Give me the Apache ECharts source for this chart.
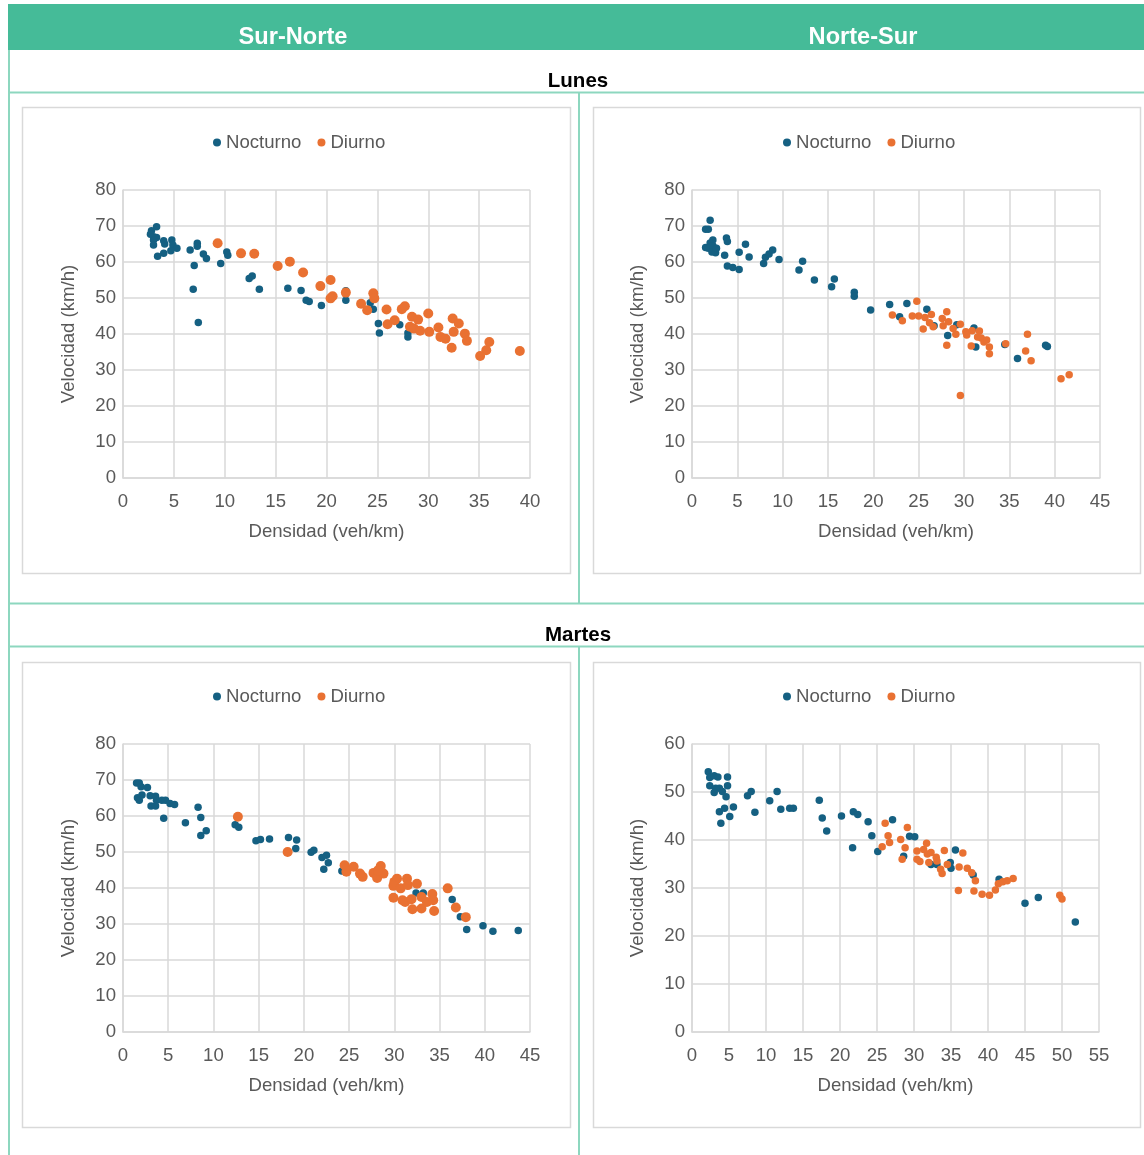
<!DOCTYPE html>
<html>
<head>
<meta charset="utf-8">
<title>Velocidad vs Densidad</title>
<script src="https://cdn.jsdelivr.net/npm/echarts@6/dist/echarts.min.js"></script>
<style>
  html, body { margin: 0; padding: 0; background: #ffffff; }
  #chart { width: 1144px; height: 1155px; }
</style>
</head>
<body>
<div id="chart"></div>
<script>
// Column headers (direction) and row headers (day)
const directions = ['Sur-Norte', 'Norte-Sur'];
const days = ['Lunes', 'Martes'];
const seriesNames = ['Nocturno', 'Diurno'];

// Axis ranges per panel: [xMax, yMax]; step of 5 on x and 10 on y
const xMaxes = [40, 45, 45, 55];
const yMaxes = [80, 80, 80, 60];

// Sur-Norte, Lunes — [densidad, velocidad]
const lunesSN_nocturno = [
  [3.3, 69.8], [2.8, 68.7], [2.7, 67.7], [3.0, 67.0], [3.3, 66.8], [3.0, 66.1], [3.0, 64.7],
  [4.0, 65.9], [4.1, 65.0], [4.8, 66.1], [4.9, 64.7], [5.3, 63.8], [4.7, 63.1], [4.0, 62.4],
  [3.4, 61.6], [6.6, 63.3], [7.3, 65.2], [7.3, 64.4], [7.9, 62.2], [8.2, 61.0], [10.2, 62.8],
  [10.3, 61.9], [7.0, 59.0], [9.6, 59.6], [6.9, 52.4], [7.4, 43.2], [12.4, 55.4], [12.7, 56.1],
  [13.4, 52.4], [16.2, 52.7], [17.5, 52.1], [18.0, 49.4], [18.3, 49.0], [19.5, 47.9], [20.4, 49.7],
  [21.9, 52.0], [21.9, 49.4], [24.3, 48.7], [24.6, 46.9], [25.1, 42.9], [25.2, 40.3], [27.2, 42.6],
  [28.0, 40.3], [28.0, 39.2]
];
const lunesSN_diurno = [
  [9.3, 65.2], [11.6, 62.4], [12.9, 62.3], [15.2, 58.9], [16.4, 60.1], [17.7, 57.1], [20.4, 55.0],
  [19.4, 53.3], [20.6, 50.5], [20.4, 49.9], [21.9, 51.5], [23.4, 48.4], [24.0, 46.6], [24.6, 51.3],
  [24.7, 49.9], [25.9, 46.8], [26.0, 42.7], [26.7, 43.8], [27.4, 46.9], [27.7, 47.7], [28.4, 44.8],
  [29.0, 44.0], [28.2, 42.0], [28.6, 41.5], [29.2, 40.9], [30.0, 45.7], [30.1, 40.6], [31.0, 41.8],
  [31.2, 39.2], [31.7, 38.7], [32.4, 44.3], [33.0, 42.9], [32.5, 40.6], [32.3, 36.2], [33.6, 40.1],
  [33.8, 38.1], [36.0, 37.8], [35.7, 35.5], [35.1, 33.9], [39.0, 35.3]
];

// Norte-Sur, Lunes
const lunesNS_nocturno = [
  [2.0, 71.6], [1.5, 69.1], [1.8, 69.1], [2.3, 66.1], [2.0, 65.3], [1.5, 64.0], [1.8, 63.8],
  [2.3, 64.5], [2.2, 62.8], [2.6, 62.6], [2.7, 63.8], [3.8, 66.7], [3.9, 65.7], [3.6, 61.9],
  [3.9, 58.9], [4.5, 58.5], [5.2, 57.9], [5.2, 62.7], [5.9, 64.9], [6.3, 61.4], [7.9, 59.6],
  [8.1, 61.3], [8.5, 62.2], [8.9, 63.3], [9.6, 60.7], [11.8, 57.8], [12.2, 60.2], [13.5, 55.0],
  [15.4, 53.1], [15.7, 55.3], [17.9, 51.6], [17.9, 50.5], [19.7, 46.7], [21.8, 48.2], [22.9, 44.8],
  [23.7, 48.5], [25.9, 46.9], [26.7, 42.3], [29.2, 42.6], [28.2, 39.6], [31.1, 41.7], [31.3, 36.4],
  [34.5, 37.1], [35.9, 33.2], [39.0, 36.9], [39.2, 36.5]
];
const lunesNS_diurno = [
  [24.8, 49.1], [22.1, 45.3], [23.2, 43.7], [24.3, 45.0], [25.0, 45.0], [25.7, 44.6], [25.5, 41.4],
  [26.4, 45.4], [26.2, 43.1], [26.6, 42.0], [27.6, 44.3], [28.1, 46.2], [27.7, 42.3], [28.3, 43.4],
  [28.1, 36.9], [28.8, 41.5], [29.1, 39.9], [29.6, 42.7], [29.6, 22.9], [30.2, 40.6], [30.3, 39.7],
  [30.9, 40.9], [30.8, 36.7], [31.7, 40.8], [31.5, 39.2], [31.9, 38.9], [32.2, 37.8], [32.5, 38.3],
  [32.8, 36.4], [32.8, 34.5], [34.6, 37.3], [37.0, 39.9], [36.8, 35.3], [37.4, 32.6], [40.7, 27.6],
  [41.6, 28.7]
];

// Sur-Norte, Martes
const martesSN_nocturno = [
  [1.5, 69.2], [1.8, 69.2], [2.0, 68.1], [2.7, 67.9], [1.6, 65.1], [1.8, 64.4], [2.1, 65.8],
  [3.0, 65.6], [3.6, 65.5], [3.7, 64.4], [3.1, 62.8], [3.6, 62.8], [4.3, 64.4], [4.7, 64.4],
  [5.2, 63.5], [5.7, 63.2], [4.5, 59.4], [6.9, 58.1], [8.3, 62.4], [8.6, 59.6], [8.6, 54.6],
  [9.2, 55.9], [12.4, 57.6], [12.8, 56.9], [14.7, 53.1], [15.2, 53.5], [16.2, 53.6], [18.3, 54.0],
  [19.2, 53.3], [19.1, 51.0], [20.8, 49.9], [21.1, 50.5], [22.0, 48.5], [22.5, 49.1], [22.7, 47.0],
  [22.2, 45.2], [24.2, 44.7], [32.4, 38.6], [33.2, 38.6], [36.4, 36.8], [37.3, 32.0], [38.0, 28.5],
  [39.8, 29.5], [40.9, 28.0], [43.7, 28.2]
];
const martesSN_diurno = [
  [12.7, 59.8], [18.2, 50.0], [24.5, 46.3], [24.7, 44.5], [25.5, 45.9], [26.2, 44.0], [26.5, 43.1],
  [27.7, 44.2], [28.1, 42.8], [28.5, 46.1], [28.8, 44.0], [28.2, 44.9], [30.0, 41.7], [30.3, 42.6],
  [29.9, 40.6], [30.7, 39.9], [31.4, 42.6], [31.5, 40.8], [32.5, 41.2], [29.9, 37.3], [30.9, 36.6],
  [31.2, 36.1], [32.0, 34.1], [31.9, 36.9], [33.0, 37.5], [33.0, 34.3], [33.6, 36.1], [34.2, 38.3],
  [34.3, 36.6], [34.4, 33.6], [35.9, 39.9], [36.8, 34.6], [37.9, 31.9]
];

// Norte-Sur, Martes
const martesNS_nocturno = [
  [2.2, 54.2], [2.4, 53.0], [3.0, 53.4], [3.5, 53.1], [4.8, 53.1], [4.8, 51.3], [2.4, 51.3],
  [3.2, 50.8], [3.7, 50.8], [3.0, 49.9], [4.1, 50.1], [4.6, 49.0], [3.7, 45.9], [4.4, 46.6],
  [5.6, 46.9], [3.9, 43.5], [5.1, 44.9], [7.5, 49.2], [8.0, 50.1], [8.5, 45.8], [10.5, 48.2],
  [11.5, 50.1], [12.0, 46.4], [13.2, 46.6], [13.7, 46.6], [17.2, 48.3], [17.6, 44.6], [18.2, 41.9],
  [20.2, 45.0], [21.8, 45.9], [22.4, 45.3], [21.7, 38.4], [23.8, 43.8], [24.3, 40.9], [25.1, 37.6],
  [27.1, 44.2], [28.6, 36.6], [29.4, 40.8], [30.1, 40.7], [32.3, 34.9], [33.1, 34.9], [34.9, 35.3],
  [35.0, 34.1], [35.6, 37.9], [38.0, 32.7], [41.5, 31.8], [45.0, 26.8], [46.8, 28.0], [51.8, 22.9]
];
const martesNS_diurno = [
  [26.1, 43.5], [26.5, 40.9], [26.7, 39.5], [25.7, 38.6], [29.1, 42.6], [28.2, 40.1], [28.8, 38.4],
  [28.4, 36.0], [30.4, 37.7], [30.8, 35.5], [30.4, 36.0], [31.3, 38.0], [31.7, 39.3], [31.8, 37.1],
  [32.3, 37.4], [32.0, 35.3], [33.0, 36.4], [33.1, 35.6], [33.6, 33.9], [33.8, 33.0], [34.1, 37.8],
  [34.5, 34.9], [36.1, 34.4], [36.6, 37.3], [36.0, 29.5], [37.2, 34.1], [37.8, 33.2], [38.3, 31.5],
  [38.1, 29.4], [39.2, 28.7], [40.2, 28.5], [41.0, 29.6], [41.4, 30.9], [42.0, 31.3], [42.6, 31.5],
  [43.4, 32.0], [49.7, 28.5], [50.0, 27.7]
];

const FONT = "'Liberation Sans', Arial, sans-serif";
const TEXT_GREY = '#595959';
const GRID_GREY = '#D9D9D9';
const BLUE = '#156082';
const ORANGE = '#E97132';
const FRAME_GREEN = '#8DD7BF';

// Panel geometry: plot rectangles and surrounding chart boxes
const panels = [
  { grid: { left: 123, top: 190, width: 407, height: 288 }, box: [22, 107, 548, 466], legend: { left: 208, top: 128 },
    noct: lunesSN_nocturno, diur: lunesSN_diurno, noctSize: 7.5, diurSize: 10 },
  { grid: { left: 692, top: 190, width: 408, height: 288 }, box: [593, 107, 547, 466], legend: { left: 778, top: 128 },
    noct: lunesNS_nocturno, diur: lunesNS_diurno, noctSize: 7.5, diurSize: 7.5 },
  { grid: { left: 123, top: 744, width: 407, height: 288 }, box: [22, 662, 548, 465], legend: { left: 208, top: 682 },
    noct: martesSN_nocturno, diur: martesSN_diurno, noctSize: 7.5, diurSize: 10 },
  { grid: { left: 692, top: 744, width: 407, height: 288 }, box: [593, 662, 547, 465], legend: { left: 778, top: 682 },
    noct: martesNS_nocturno, diur: martesNS_diurno, noctSize: 7.5, diurSize: 7.5 }
];

const grids = [], xAxes = [], yAxes = [], series = [], legends = [];
const graphics = [];

panels.forEach((p, i) => {
  grids.push(Object.assign({ containLabel: false }, p.grid));

  xAxes.push({
    type: 'value', gridIndex: i, min: 0, max: xMaxes[i], interval: 5,
    name: 'Densidad (veh/km)', nameLocation: 'middle', nameGap: 44,
    nameTextStyle: { color: TEXT_GREY, fontFamily: FONT, fontSize: 18.6 },
    axisLine: { show: true, lineStyle: { color: GRID_GREY, width: 1.5 } },
    axisTick: { show: false },
    axisLabel: { color: TEXT_GREY, fontFamily: FONT, fontSize: 18.6, margin: 14 },
    splitLine: { show: true, lineStyle: { color: GRID_GREY, width: 1.5 } }
  });

  yAxes.push({
    type: 'value', gridIndex: i, min: 0, max: yMaxes[i], interval: 10,
    name: 'Velocidad (km/h)', nameLocation: 'middle', nameGap: 45,
    nameTextStyle: { color: TEXT_GREY, fontFamily: FONT, fontSize: 18.6 },
    axisLine: { show: true, lineStyle: { color: GRID_GREY, width: 1.5 } },
    axisTick: { show: false },
    axisLabel: { color: TEXT_GREY, fontFamily: FONT, fontSize: 18.6, margin: 7 },
    splitLine: { show: true, lineStyle: { color: GRID_GREY, width: 1.5 } }
  });

  series.push({
    name: 'Nocturno', type: 'scatter', xAxisIndex: i, yAxisIndex: i,
    symbol: 'circle', symbolSize: p.noctSize, data: p.noct,
    itemStyle: { color: BLUE, opacity: 1 }, z: 3
  });
  series.push({
    name: 'Diurno', type: 'scatter', xAxisIndex: i, yAxisIndex: i,
    symbol: 'circle', symbolSize: p.diurSize, data: p.diur,
    itemStyle: { color: ORANGE, opacity: 1 }, z: 4
  });

  legends.push({
    data: seriesNames, left: p.legend.left, top: p.legend.top, orient: 'horizontal',
    icon: 'circle', itemWidth: 8, itemHeight: 8, itemGap: 16,
    textStyle: { color: TEXT_GREY, fontFamily: FONT, fontSize: 18.6 },
    selectedMode: false
  });

  const b = p.box;
  graphics.push({
    type: 'rect', z: -1,
    shape: { x: b[0] + 0.5, y: b[1] + 0.5, width: b[2], height: b[3] },
    style: { fill: '#ffffff', stroke: GRID_GREY, lineWidth: 1.5 }
  });
});

// Header band, section labels and table frame
graphics.push(
  { type: 'rect', z: -2, shape: { x: 8, y: 4, width: 1136, height: 46 }, style: { fill: '#45BB98' } },
  { type: 'text', x: 293, y: 37, style: { text: directions[0], fill: '#ffffff', font: "bold 23.6px " + FONT, textAlign: 'center', textVerticalAlign: 'middle' } },
  { type: 'text', x: 863, y: 37, style: { text: directions[1], fill: '#ffffff', font: "bold 23.6px " + FONT, textAlign: 'center', textVerticalAlign: 'middle' } },
  { type: 'text', x: 578, y: 81, style: { text: days[0], fill: '#000000', font: "bold 20.5px " + FONT, textAlign: 'center', textVerticalAlign: 'middle' } },
  { type: 'text', x: 578, y: 635, style: { text: days[1], fill: '#000000', font: "bold 20.5px " + FONT, textAlign: 'center', textVerticalAlign: 'middle' } },
  { type: 'line', z: -2, shape: { x1: 9, y1: 50, x2: 9, y2: 1155 }, style: { stroke: FRAME_GREEN, lineWidth: 2 } },
  { type: 'line', z: -2, shape: { x1: 8, y1: 92.5, x2: 1144, y2: 92.5 }, style: { stroke: FRAME_GREEN, lineWidth: 2 } },
  { type: 'line', z: -2, shape: { x1: 8, y1: 603.5, x2: 1144, y2: 603.5 }, style: { stroke: FRAME_GREEN, lineWidth: 2 } },
  { type: 'line', z: -2, shape: { x1: 8, y1: 646.5, x2: 1144, y2: 646.5 }, style: { stroke: FRAME_GREEN, lineWidth: 2 } },
  { type: 'line', z: -2, shape: { x1: 579, y1: 92, x2: 579, y2: 604 }, style: { stroke: FRAME_GREEN, lineWidth: 2 } },
  { type: 'line', z: -2, shape: { x1: 579, y1: 646, x2: 579, y2: 1155 }, style: { stroke: FRAME_GREEN, lineWidth: 2 } }
);

const chart = echarts.init(document.getElementById('chart'), null, { renderer: 'canvas' });
chart.setOption({
  backgroundColor: '#ffffff',
  animation: false,
  textStyle: { fontFamily: FONT },
  grid: grids,
  xAxis: xAxes,
  yAxis: yAxes,
  legend: legends,
  graphic: graphics,
  series: series
});
</script>
</body>
</html>
